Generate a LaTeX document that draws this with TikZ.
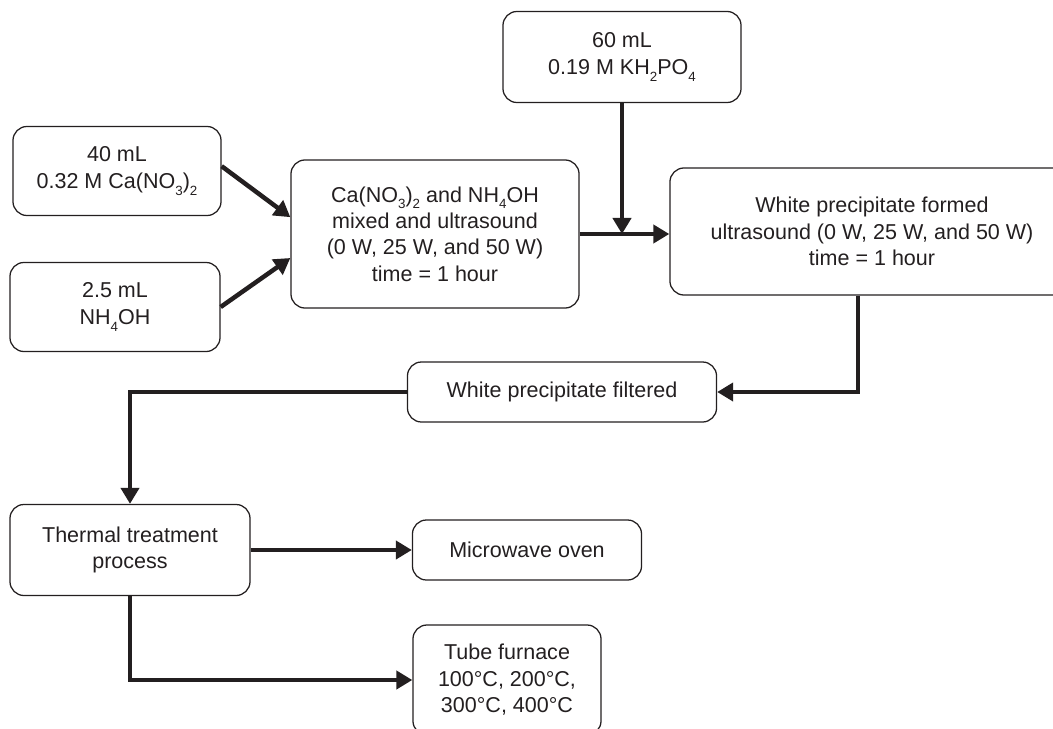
\documentclass[tikz,border=0pt]{standalone}
\usepackage{fontspec}
\setmainfont{Liberation Sans}
\usepackage{tikz}
\usetikzlibrary{arrows.meta,positioning}
\definecolor{ink}{RGB}{35,31,32}
\newcommand{\chsub}[1]{\raisebox{-0.6ex}{\fontsize{9.5}{9.5}\selectfont #1}}

\begin{document}
\begin{tikzpicture}[x=0.025cm, y=-0.025cm]
\tikzstyle{every node} = [font=\fontsize{15.3}{18.8}\selectfont, text=ink]
\tikzstyle{box} = [draw=ink, line width=0.9pt, rounded corners=0.35cm, align=center, inner sep=0pt]
\tikzstyle{arr} = [draw=ink, line width=3.2pt, -{Triangle[length=0.4cm,width=0.45cm]}]
\useasboundingbox (0,0) rectangle (1053,729);
\clip (0,0) rectangle (1053,729);
\node[box, minimum width=5.2cm, minimum height=2.225cm] (cano) at (117,171) {40 mL\\0.32 M Ca(NO\chsub{3})\chsub{2}};
\node[box, minimum width=5.25cm, minimum height=2.225cm] (nhoh) at (115,307) {2.5 mL\\NH\chsub{4}OH};
\node[box, minimum width=7.2cm, minimum height=3.7cm] (mix) at (435,234) {Ca(NO\chsub{3})\chsub{2} and NH\chsub{4}OH\\mixed and ultrasound\\(0 W, 25 W, and 50 W)\\time = 1 hour};
\node[box, minimum width=5.95cm, minimum height=2.275cm] (khpo) at (622,57) {60 mL\\0.19 M KH\chsub{2}PO\chsub{4}};
\node[box, minimum width=10.1cm, minimum height=3.175cm] (formed) at (872,231.5) {White precipitate formed\\ultrasound (0 W, 25 W, and 50 W)\\time = 1 hour};
\node[box, minimum width=7.725cm, minimum height=1.5cm] (filtered) at (562,392) {White precipitate filtered};
\node[box, minimum width=6cm, minimum height=2.275cm] (thermal) at (130,550) {Thermal treatment\\process};
\node[box, minimum width=5.725cm, minimum height=1.5cm] (oven) at (527,550) {Microwave oven};
\node[box, minimum width=4.7cm, minimum height=2.75cm] (tube) at (507,680) {Tube furnace\\100°C, 200°C,\\300°C, 400°C};
\draw[arr] ([yshift=0.12cm]cano.east) -- ([yshift=0.42cm]mix.west);
\draw[arr] (nhoh.east) -- ([yshift=-0.6cm]mix.west);
\draw[arr] (mix.east) -- (mix.east -| formed.west);
\draw[arr] (khpo.south) -- (khpo.south |- mix.east);
\draw[arr] ([xshift=-0.35cm]formed.south) |- (filtered.east);
\draw[arr] (filtered.west) -| (thermal.north);
\draw[arr] (thermal.east) -- (oven.west);
\draw[arr] (thermal.south) |- (tube.west);
\end{tikzpicture}
\end{document}
